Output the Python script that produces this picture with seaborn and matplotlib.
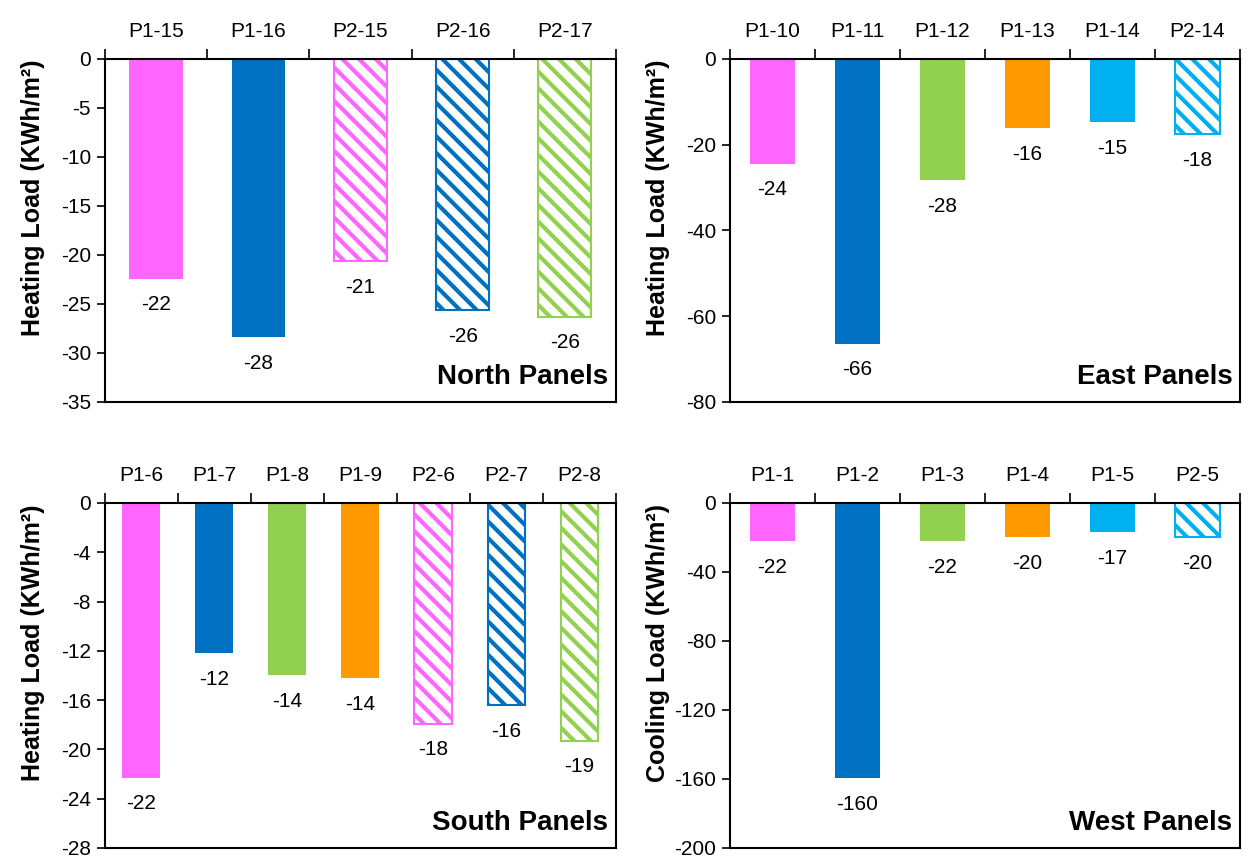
# heating / cooling loads for the north, east, south and west panels

import matplotlib
matplotlib.use("Agg")
import matplotlib.pyplot as plt
import seaborn as sns

# dados
north_labels = ["P1-15", "P1-16", "P2-15", "P2-16", "P2-17"]
north_values = [-22.4, -28.4, -20.6, -25.6, -26.3]

east_labels = ["P1-10", "P1-11", "P1-12", "P1-13", "P1-14", "P2-14"]
east_values = [-24.4, -66.4, -28.2, -16.1, -14.7, -17.6]

south_labels = ["P1-6", "P1-7", "P1-8", "P1-9", "P2-6", "P2-7", "P2-8"]
south_values = [-22.3, -12.2, -14.0, -14.2, -17.9, -16.4, -19.3]

west_labels = ["P1-1", "P1-2", "P1-3", "P1-4", "P1-5", "P2-5"]
west_values = [-22.0, -159.6, -22.2, -19.8, -17.1, -19.7]

# cores (estilo)
PINK, BLUE, GREEN, ORANGE, CYAN = "#FF66FF", "#0070C0", "#92D050", "#FF9900", "#00B0F0"
north_colors = [PINK, BLUE, PINK, BLUE, GREEN]
north_hatched = [False, False, True, True, True]
east_colors = [PINK, BLUE, GREEN, ORANGE, CYAN, CYAN]
east_hatched = [False, False, False, False, False, True]
south_colors = [PINK, BLUE, GREEN, ORANGE, PINK, BLUE, GREEN]
south_hatched = [False, False, False, False, True, True, True]
west_colors = [PINK, BLUE, GREEN, ORANGE, CYAN, CYAN]
west_hatched = [False, False, False, False, False, True]

sns.set_style("white")
plt.rcParams['font.family'] = ['Liberation Sans', 'DejaVu Sans']
plt.rcParams['axes.unicode_minus'] = False
plt.rcParams['text.color'] = 'black'
plt.rcParams['xtick.color'] = 'black'
plt.rcParams['ytick.color'] = 'black'
plt.rcParams['axes.labelcolor'] = 'black'
plt.rcParams['hatch.linewidth'] = 3.0


def draw_panel(ax, labels, values, colors, hatched, ymin, ystep, ylabel, title):
    sns.barplot(x=labels, y=values, hue=labels, palette=colors, legend=False,
                width=0.52, saturation=1, ax=ax)
    for bar, c, h in zip(ax.patches, colors, hatched):
        if h:
            bar.set_facecolor("white")
            bar.set_edgecolor(c)
            bar.set_hatch("\\\\")
            bar.set_linewidth(1.5)
        else:
            bar.set_linewidth(0)

    # rotulos de valor abaixo das barras
    for i, v in enumerate(values):
        ax.annotate(f"{v:.0f}", (i, v), xytext=(0, -12), textcoords="offset points",
                    ha="center", va="top", fontsize=15)

    n = len(labels)
    ax.set_xlim(-0.5, n - 0.5)
    ax.set_ylim(ymin, 0)
    ax.set_yticks(range(0, ymin - 1, -ystep))
    ax.xaxis.tick_top()
    ax.set_xticks(range(n))
    ax.set_xticklabels(labels)
    ax.set_xticks([i - 0.5 for i in range(n + 1)], minor=True)
    ax.tick_params(axis="x", which="major", length=0, pad=13, labelsize=15)
    ax.tick_params(axis="x", which="minor", length=7, width=1.2, direction="out",
                   top=True, bottom=False)
    ax.tick_params(axis="y", length=6, width=1.2, direction="out", left=True,
                   labelsize=15, pad=4)
    ax.set_xlabel("")
    ax.set_ylabel(ylabel, fontsize=18, fontweight="bold")
    ax.yaxis.set_label_coords(-0.117, 0.595)
    for s in ax.spines.values():
        s.set_visible(True)
        s.set_color("black")
        s.set_linewidth(1.5)
    ax.text(0.985, 0.035, title, transform=ax.transAxes, ha="right", va="bottom",
            fontsize=20, fontweight="bold")


fig = plt.figure(figsize=(12.51, 8.66), dpi=100)
ax_n = fig.add_axes([0.0839, 0.5358, 0.4085, 0.3961])
ax_e = fig.add_axes([0.5835, 0.5358, 0.4077, 0.3961])
ax_s = fig.add_axes([0.0839, 0.0208, 0.4085, 0.3984])
ax_w = fig.add_axes([0.5835, 0.0208, 0.4077, 0.3984])

draw_panel(ax_n, north_labels, north_values, north_colors, north_hatched,
           -35, 5, "Heating Load (KWh/m²)", "North Panels")
draw_panel(ax_e, east_labels, east_values, east_colors, east_hatched,
           -80, 20, "Heating Load (KWh/m²)", "East Panels")
draw_panel(ax_s, south_labels, south_values, south_colors, south_hatched,
           -28, 4, "Heating Load (KWh/m²)", "South Panels")
draw_panel(ax_w, west_labels, west_values, west_colors, west_hatched,
           -200, 40, "Cooling Load (KWh/m²)", "West Panels")

fig.savefig("out.png", dpi=100, facecolor="white")
